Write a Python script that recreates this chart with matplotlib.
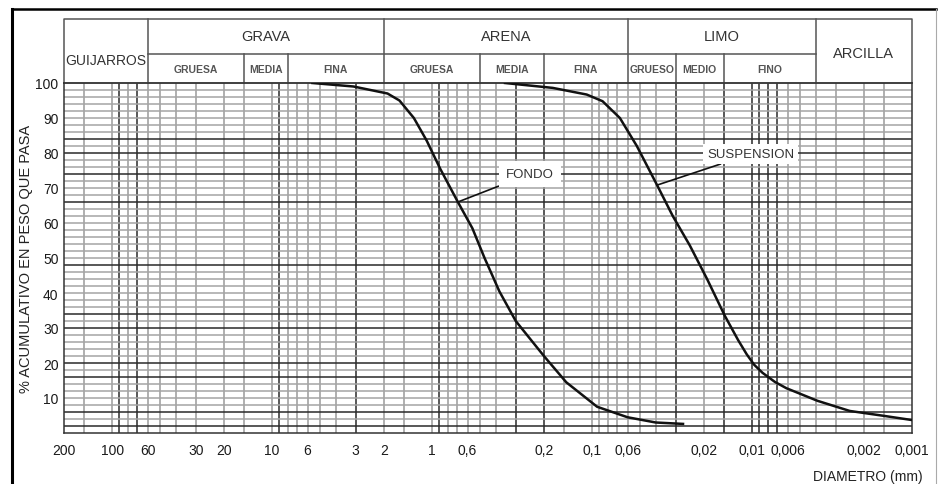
import matplotlib
matplotlib.use("Agg")
import matplotlib.pyplot as plt
from matplotlib.lines import Line2D
from matplotlib.ticker import NullLocator
from matplotlib.transforms import blended_transform_factory

plt.rcParams['font.family'] = ['Liberation Sans', 'DejaVu Sans']

W, H = 942, 485

# curva FONDO (diametro mm, % que pasa)
fondo_d = [5.6, 3.1, 1.9, 1.6, 1.3, 1.08, 0.89, 0.69, 0.56, 0.47, 0.42, 0.38,
           0.3, 0.2, 0.145, 0.093, 0.06, 0.04, 0.027]
fondo_p = [100, 99, 97, 95, 90, 83.5, 75.5, 66, 58.5, 50, 45, 40.5,
           32, 22, 14.5, 7.5, 4.5, 3, 2.6]

# curva SUSPENSION
susp_d = [0.35, 0.176, 0.108, 0.086, 0.067, 0.0525, 0.0394, 0.0313, 0.0245,
          0.0191, 0.0148, 0.0122, 0.0108, 0.0097, 0.0086, 0.0072, 0.0061,
          0.0039, 0.00245, 0.0015, 0.001]
susp_p = [100, 98.6, 96.7, 94.8, 90, 82, 71, 62, 53.6,
          44, 33.5, 26.5, 22.5, 19.5, 17.2, 14.6, 12.8,
          9.2, 6.3, 4.9, 3.7]

x_ticks = [200, 100, 60, 30, 20, 10, 6, 3, 2, 1, 0.6, 0.2, 0.1, 0.06,
           0.02, 0.01, 0.006, 0.002, 0.001]
x_labels = ['200', '100', '60', '30', '20', '10', '6', '3', '2', '1', '0,6',
            '0,2', '0,1', '0,06', '0,02', '0,01', '0,006', '0,002', '0,001']
y_ticks = [10, 20, 30, 40, 50, 60, 70, 80, 90, 100]

# encabezado: clases principales y subclases
main_bounds = [200, 60, 2, 0.06, 0.004, 0.001]
main_names = ['GUIJARROS', 'GRAVA', 'ARENA', 'LIMO', 'ARCILLA']
sub_bounds = [15, 8, 0.5, 0.2, 0.03, 0.015]
sub_names = [('GRUESA', 60, 15), ('MEDIA', 15, 8), ('FINA', 8, 2),
             ('GRUESA', 2, 0.5), ('MEDIA', 0.5, 0.2), ('FINA', 0.2, 0.06),
             ('GRUESO', 0.06, 0.03), ('MEDIO', 0.03, 0.015), ('FINO', 0.015, 0.004)]

fig = plt.figure(figsize=(W / 100, H / 100), dpi=100)
ax = fig.add_axes([64 / W, 1 - 434 / H, 848 / W, 350 / H])
ax.set_xscale('log')
ax.set_xlim(200, 0.001)
ax.set_ylim(0, 100)

# reticula
dark_v = [90, 70, 9, 3, 0.9, 0.3, 0.2, 0.03, 0.015, 0.01, 0.009, 0.008, 0.007]
for e in [0.001, 0.01, 0.1, 1, 10, 100]:
    for m in [1, 1.5, 2, 3, 4, 5, 6, 7, 8, 9]:
        v = round(m * e, 6)
        if v >= 200 or v <= 0.001:
            continue
        dark = any(abs(v - d) / d < 1e-6 for d in dark_v)
        ax.axvline(v, color='#2a2a2a' if dark else '#9a9a9a',
                   lw=1.1, zorder=1)
dark_h = [2, 6, 16, 20, 30, 34, 48, 66, 74, 80, 84]
for p in range(2, 100, 2):
    dark = p in dark_h
    ax.axhline(p, color='#2a2a2a' if dark else '#a4a4a4', lw=1.1, zorder=1)

ax.plot(fondo_d, fondo_p, color='#111111', lw=1.8, zorder=3)
ax.plot(susp_d, susp_p, color='#111111', lw=1.8, zorder=3)

ax.annotate('FONDO', xy=(0.69, 66), xytext=(0.245, 74), fontsize=9.5,
            ha='center', va='center', zorder=5, color='#333333',
            bbox=dict(boxstyle='square,pad=0.55', fc='white', ec='none'),
            arrowprops=dict(arrowstyle='-', color='#111111', lw=1.2,
                            shrinkA=0, shrinkB=0))
ax.annotate('SUSPENSION', xy=(0.0394, 70.8), xytext=(0.0102, 79.7), fontsize=9.5,
            ha='center', va='center', zorder=5, color='#333333',
            bbox=dict(boxstyle='square,pad=0.3', fc='white', ec='none'),
            arrowprops=dict(arrowstyle='-', color='#111111', lw=1.2,
                            shrinkA=0, shrinkB=0))

ax.set_xticks(x_ticks, labels=x_labels)
ax.xaxis.set_minor_locator(NullLocator())
ax.set_yticks(y_ticks)
ax.tick_params(length=0, labelsize=10, colors='#1a1a1a')
ax.tick_params(axis='x', pad=7)
ax.tick_params(axis='y', pad=4)
ax.set_ylabel('% ACUMULATIVO EN PESO QUE PASA', fontsize=10.5, color='#222222')
ax.yaxis.set_label_coords(-0.036, 0.5)
for s in ax.spines.values():
    s.set_color('#333333')
    s.set_linewidth(1.1)

# encabezado de clasificacion
tr = blended_transform_factory(ax.transData, ax.transAxes)
y_top = 1 + 64 / 350
y_mid = 1 + 29 / 350
hc = '#555555'
ax.plot([200, 0.001, 0.001, 200, 200], [1, 1, y_top, y_top, 1], color=hc,
        lw=1.1, transform=tr, clip_on=False)
for b in main_bounds[1:-1]:
    ax.plot([b, b], [1, y_top], color=hc, lw=1.1, transform=tr, clip_on=False)
ax.plot([60, 0.004], [y_mid, y_mid], color=hc, lw=1.1, transform=tr, clip_on=False)
for b in sub_bounds:
    ax.plot([b, b], [1, y_mid], color=hc, lw=1.1, transform=tr, clip_on=False)

gm = lambda a, b: (a * b) ** 0.5
ax.text(gm(200, 60), 1 + 23 / 350, main_names[0], transform=tr, ha='center',
        va='center', fontsize=10, color='#333333')
for name, a, b in zip(main_names[1:4], main_bounds[1:4], main_bounds[2:5]):
    ax.text(gm(a, b), 1 + 47 / 350, name, transform=tr, ha='center',
            va='center', fontsize=10.5, color='#333333')
ax.text(gm(0.004, 0.001), 1 + 30 / 350, main_names[4], transform=tr,
        ha='center', va='center', fontsize=10.5, color='#333333')
for name, a, b in sub_names:
    ax.text(gm(a, b), 1 + 14 / 350, name, transform=tr, ha='center',
            va='center', fontsize=7.5, fontweight='bold', color='#555555')

fig.text(923 / W, 1 - 477 / H, 'DIAMETRO (mm)', ha='right', va='center',
         fontsize=10, color='#222222')

# marco exterior
fig.add_artist(Line2D([12 / W, 12 / W], [1 - 10 / H, 0], color='black', lw=2.2))
fig.add_artist(Line2D([12 / W, 936 / W], [1 - 10 / H, 1 - 10 / H], color='black', lw=1.8))
fig.add_artist(Line2D([936 / W, 936 / W], [1 - 10 / H, 0], color='#aaaaaa', lw=0.8))

fig.savefig('out.png', dpi=100, facecolor='white')
